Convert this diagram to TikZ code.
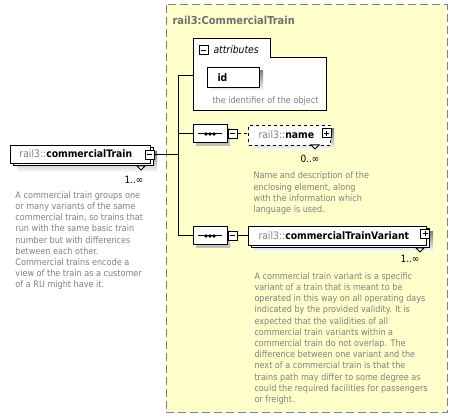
\documentclass[tikz,border=0pt]{standalone}
\usepackage{fontspec}
\setmainfont{DejaVu Sans Condensed}
\usepackage{xcolor}
\usepackage{tikz}
\usetikzlibrary{positioning,shapes.misc,shadows}

\definecolor{bgyellow}{RGB}{255,255,204}
\definecolor{txtgray}{RGB}{128,128,128}
\definecolor{ttlgray}{RGB}{112,112,112}
\definecolor{shade}{RGB}{192,192,192}

\tikzset{
  elbox/.style={draw, fill=white, inner sep=0pt, anchor=north west},
  pmbox/.style={draw, fill=white, minimum size=9pt, inner sep=0pt},
  minusbox/.style={pmbox, path picture={
      \draw ([xshift=2pt]path picture bounding box.west) -- ([xshift=-2pt]path picture bounding box.east);}},
  plusbox/.style={pmbox, path picture={
      \draw ([xshift=2pt]path picture bounding box.west) -- ([xshift=-2pt]path picture bounding box.east);
      \draw ([yshift=-2pt]path picture bounding box.north) -- ([yshift=2pt]path picture bounding box.south);}},
  seqbox/.style={chamfered rectangle, chamfered rectangle xsep=5pt, chamfered rectangle ysep=5pt,
      draw, fill=white, minimum width=34pt, minimum height=18pt, inner sep=0pt,
      drop shadow={shadow xshift=3pt, shadow yshift=-3pt, fill=shade, opacity=1}},
  lbl/.style={anchor=west, inner sep=0pt, font=\fontsize{10.3}{12}\selectfont},
  doc/.style={anchor=north west, align=left, inner sep=0pt, text=txtgray, font=\fontsize{9}{11.2}\selectfont},
  mult/.style={inner sep=0pt, font=\fontsize{10}{12}\selectfont},
}

\begin{document}
\begin{tikzpicture}[x=1pt,y=-1pt,line width=1pt]
    \useasboundingbox (0,0) rectangle (458,419);
    % complex type area
    \draw[txtgray, fill=bgyellow, dash pattern=on 8pt off 4pt] (166,5) rectangle (447,413);
    \node[anchor=north west, inner sep=0pt, text=ttlgray, font=\fontsize{11}{13}\selectfont\bfseries] (ttl) at (172,16) {rail3:CommercialTrain};

    % element commercialTrain
    \fill[shade] (17,152) rectangle (157,172);
    \draw[fill=white] (13,148) rectangle (153,166);
    \node[elbox, minimum width=140pt, minimum height=18pt] (ct) at (10,145) {};
    \node[lbl] (ctl) at (19,154) {\textcolor{txtgray}{rail3::}\textbf{commercialTrain}};
    \node[minusbox] (ctm) at (149.5,155) {};
    \draw[fill=white] (137,166)--(145,166)--(141,170)--cycle;
    \node[mult] (ctn) at (134,180) {1..∞};
    \node[doc] (ctd) at (15,191) {A commercial train groups one\\or many variants of the same\\commercial train, so trains that\\run with the same basic train\\number but with differences\\between each other.\\Commercial trains encode a\\view of the train as a customer\\of a RU might have it.};

    % attributes
    \draw[fill=white] (193,111)--(193,39)--(270,39)--(270,58)--(326,58)--(326,111)--cycle;
    \coordinate (attr) at (193,76);
    \node[minusbox] (atm) at (203.5,50.5) {};
    \node[lbl, font=\fontsize{10.3}{12}\selectfont\itshape] (atl) at (213,50) {attributes};
    \fill[shade] (211,71) rectangle (263,91);
    \node[elbox, minimum width=52pt, minimum height=20pt] (id) at (207,67) {};
    \node[lbl, font=\fontsize{10.3}{12}\selectfont\bfseries] (idl) at (217,77.5) {id};
    \node[doc] (idd) at (212,96.5) {the identifier of the object};

    % sequences
    \node[seqbox] (sq1) at (210,134) {};
    \node[seqbox] (sq2) at (210,236) {};
    \foreach \s in {sq1,sq2}{
      \draw ([xshift=-12pt]\s.center) -- ([xshift=12pt]\s.center);
      \foreach \d in {-4,0,4}
        \fill ([xshift=\d pt]\s.center) circle (1.8pt);
    }
    \node[minusbox] (s1m) at (232.5,134) {};
    \node[minusbox] (s2m) at (232.5,236) {};

    % element name
    \fill[shade] (252,129) rectangle (334,150);
    \node[elbox, dashed, minimum width=82pt, minimum height=20pt] (nm) at (248,125) {};
    \node[lbl] (nml) at (258,134.5) {\textcolor{txtgray}{rail3::}\textbf{name}};
    \node[plusbox] (nmp) at (326.5,133.5) {};
    \draw[fill=white] (311,145)--(319,145)--(315,149)--cycle;
    \node[mult] (nmn) at (310,159) {0..∞};
    \node[doc] (nmd) at (253,171.5) {Name and description of the\\enclosing element, along\\with the information which\\language is used.};

    % element commercialTrainVariant
    \fill[shade] (254,232) rectangle (433,252);
    \draw[fill=white] (251,229) rectangle (429,248);
    \node[elbox, minimum width=178pt, minimum height=19pt] (ctv) at (248,226) {};
    \node[lbl] (ctvl) at (258,235.5) {\textcolor{txtgray}{rail3::}\textbf{commercialTrainVariant}};
    \node[plusbox] (ctvp) at (425,234) {};
    \draw[fill=white] (416,248)--(424,248)--(420,252)--cycle;
    \node[mult] (ctvn) at (410,259) {1..∞};
    \node[doc] (ctvd) at (254,272) {A commercial train variant is a specific\\variant of a train that is meant to be\\operated in this way on all operating days\\indicated by the provided validity. It is\\expected that the validities of all\\commercial train variants within a\\commercial train do not overlap. The\\difference between one variant and the\\next of a commercial train is that the\\trains path may differ to some degree as\\could the required facilities for passengers\\or freight.};

    % connectors
    \coordinate (jt) at (178,76);
    \coordinate (jb) at (178,236);
    \draw (ctm.east) -- (ctm.east -| jt);
    \draw (jt) -- (jb);
    \draw (jt) -- (attr);
    \draw (sq1.west -| jt) -- (sq1.west);
    \draw (jb) -- (sq2.west);
    \draw[dashed] (s1m.east) -- (s1m.east -| nm.west);
    \draw (s2m.east) -- (s2m.east -| ctv.west);
\end{tikzpicture}
\end{document}
